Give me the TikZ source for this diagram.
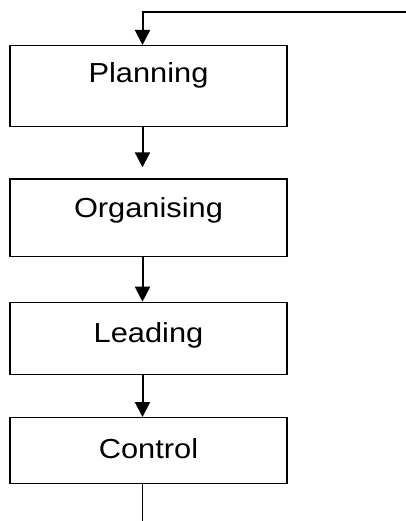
\documentclass[tikz,border=0pt]{standalone}
\usepackage{fontspec}
\setmainfont{Liberation Sans}[FakeStretch=1.12]
\usetikzlibrary{arrows.meta}
\begin{document}
\begin{tikzpicture}[x=1pt,y=-1pt,line join=miter,>={Triangle[length=15pt,width=15pt]},
	hop/.style={draw,line width=1.3pt,rectangle,minimum width=277pt,inner sep=0pt,anchor=north,font=\fontsize{27.5}{30}\selectfont},
	muiten/.style={->,line width=2pt}]
	\useasboundingbox (0,0) rectangle (406,521);
	%%Điểm
	\path
	(142.5,0)coordinate(truc)
	(406,12.3)coordinate(dau)
	(142.5,521)coordinate(cuoi)
	;
	%%Các hộp
	\foreach \ten/\chu/\y/\a/\d in {P/Planning/45/36.7/44.3,O/Organising/178.3/38.4/39.3,L/Leading/301.7/40/32.3,C/Control/417/41/25}{
		\node[hop,text height=\a pt,text depth=\d pt] (\ten) at (148.5,\y) {\chu};
	}
	%%Mũi tên
	\draw[muiten] (dau) -| (P.north -| truc);
	\draw[muiten,shorten >=11pt] (P.south -| truc) -- (O.north -| truc);
	\draw[muiten] (O.south -| truc) -- (L.north -| truc);
	\draw[muiten] (L.south -| truc) -- (C.north -| truc);
	\draw[line width=1.3pt] (C.south -| truc) -- (cuoi);
\end{tikzpicture}
\end{document}
